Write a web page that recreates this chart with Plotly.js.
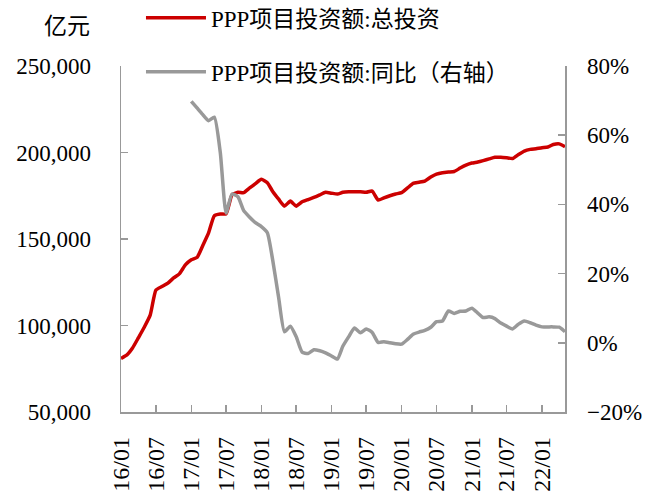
<!DOCTYPE html>
<html>
<head>
<meta charset="utf-8">
<script src="https://cdn.plot.ly/plotly-3.0.1.min.js"></script>
<style>html,body{margin:0;padding:0;background:#fff;}#chart{width:649px;height:492px;}</style>
</head>
<body>
<div id="chart"></div>
<script>
const months = [
"2016-01","2016-02","2016-03","2016-04","2016-05","2016-06","2016-07","2016-08","2016-09","2016-10","2016-11","2016-12",
"2017-01","2017-02","2017-03","2017-04","2017-05","2017-06","2017-07","2017-08","2017-09","2017-10","2017-11","2017-12",
"2018-01","2018-02","2018-03","2018-04","2018-05","2018-06","2018-07","2018-08","2018-09","2018-10","2018-11","2018-12",
"2019-01","2019-02","2019-03","2019-04","2019-05","2019-06","2019-07","2019-08","2019-09","2019-10","2019-11","2019-12",
"2020-01","2020-02","2020-03","2020-04","2020-05","2020-06","2020-07","2020-08","2020-09","2020-10","2020-11","2020-12",
"2021-01","2021-02","2021-03","2021-04","2021-05","2021-06","2021-07","2021-08","2021-09","2021-10","2021-11","2021-12",
"2022-01","2022-02","2022-03","2022-04","2022-05"];

const totalInvestment = [
81000,83000,87000,93000,99000,106000,120500,122500,124500,127500,130000,135000,
138000,139500,146000,153500,163500,164500,164500,175500,177000,176800,179500,182000,
184500,182500,177500,173000,169000,171900,169000,171500,172800,174000,175500,177000,
176500,176000,177000,177300,177300,177300,177000,177700,172500,173800,175000,176000,
176800,179500,182200,182800,183500,185800,187500,188300,188700,189000,191000,192700,
193900,194500,195300,196300,197200,197200,196900,196500,198800,200800,201800,202200,
202800,203200,204600,205000,203300];

const yoyGrowth = [
null,null,null,null,null,null,null,null,null,null,null,null,
69.8,67.8,66.0,64.2,65.2,55.0,37.5,43.0,42.2,38.2,36.3,34.7,
33.6,31.8,23.9,13.0,3.2,4.8,1.8,-2.7,-3.1,-2.0,-2.3,-2.9,
-3.8,-4.7,-1.0,1.8,4.3,2.9,4.0,3.0,0.1,0.3,0.0,-0.3,
-0.4,1.0,2.5,3.1,3.6,4.5,6.1,6.3,9.2,8.5,9.1,9.2,
10.0,8.6,7.3,7.5,7.0,5.7,4.8,4.0,5.4,6.3,5.8,5.1,
4.6,4.6,4.6,4.5,3.2];

const seriesNames = ["PPP项目投资额:总投资", "PPP项目投资额:同比（右轴）"];
const unitLabel = "亿元";

const FONT = "Liberation Serif, Times New Roman, Noto Sans CJK SC, serif";
const AXC = "#999999";

const traces = [
  {x: months, y: totalInvestment, type: "scatter", mode: "lines", name: seriesNames[0],
   line: {color: "#CC0000", width: 3.5, shape: "spline", smoothing: 0.5}, legend: "legend"},
  {x: months, y: yoyGrowth, type: "scatter", mode: "lines", name: seriesNames[1], yaxis: "y2",
   line: {color: "#999999", width: 3.5, shape: "spline", smoothing: 0.5}, legend: "legend2", connectgaps: false}
];

const layout = {
  width: 649, height: 492,
  margin: {l: 121, r: 84, t: 66, b: 80, pad: 0, autoexpand: false},
  paper_bgcolor: "#fff", plot_bgcolor: "#fff",
  font: {family: FONT, size: 23, color: "#000"},
  xaxis: {type: "date", range: ["2016-01-01", "2022-05-01"], tick0: "2016-01-01", dtick: "M6",
    tickformat: "%y/%m", tickangle: -90, showgrid: false, zeroline: false, automargin: false,
    showline: true, linecolor: AXC, linewidth: 1.5, ticks: "inside", ticklen: 7, tickcolor: AXC, tickwidth: 1.5,
    tickfont: {family: FONT, size: 24}, ticklabelstandoff: 14},
  yaxis: {range: [50000, 250000], dtick: 50000, tickformat: ",", showgrid: false, zeroline: false, automargin: false,
    showline: true, linecolor: AXC, linewidth: 1.5, ticks: "inside", ticklen: 7, tickcolor: AXC, tickwidth: 1.5,
    tickfont: {family: FONT, size: 23}, ticklabelstandoff: 24},
  yaxis2: {range: [-20, 80], dtick: 20, ticksuffix: "%", overlaying: "y", side: "right", showgrid: false, zeroline: false, automargin: false,
    showline: true, linecolor: AXC, linewidth: 1.5, ticks: "inside", ticklen: 7, tickcolor: AXC, tickwidth: 1.5,
    tickfont: {family: FONT, size: 23}, ticklabelstandoff: 16},
  showlegend: true,
  legend: {x: 0.045, y: 1.139, xanchor: "left", yanchor: "middle", bgcolor: "rgba(0,0,0,0)",
    font: {family: FONT, size: 23}, itemwidth: 60, borderwidth: 0},
  legend2: {x: 0.045, y: 0.983, xanchor: "left", yanchor: "middle", bgcolor: "rgba(0,0,0,0)",
    font: {family: FONT, size: 23}, itemwidth: 60, borderwidth: 0},
  annotations: [{text: unitLabel, xref: "paper", yref: "paper", x: -0.122, y: 1.113,
    xanchor: "center", yanchor: "middle", showarrow: false, font: {family: FONT, size: 23}}]
};

Plotly.newPlot("chart", traces, layout, {displayModeBar: false, staticPlot: true});
</script>
</body>
</html>
